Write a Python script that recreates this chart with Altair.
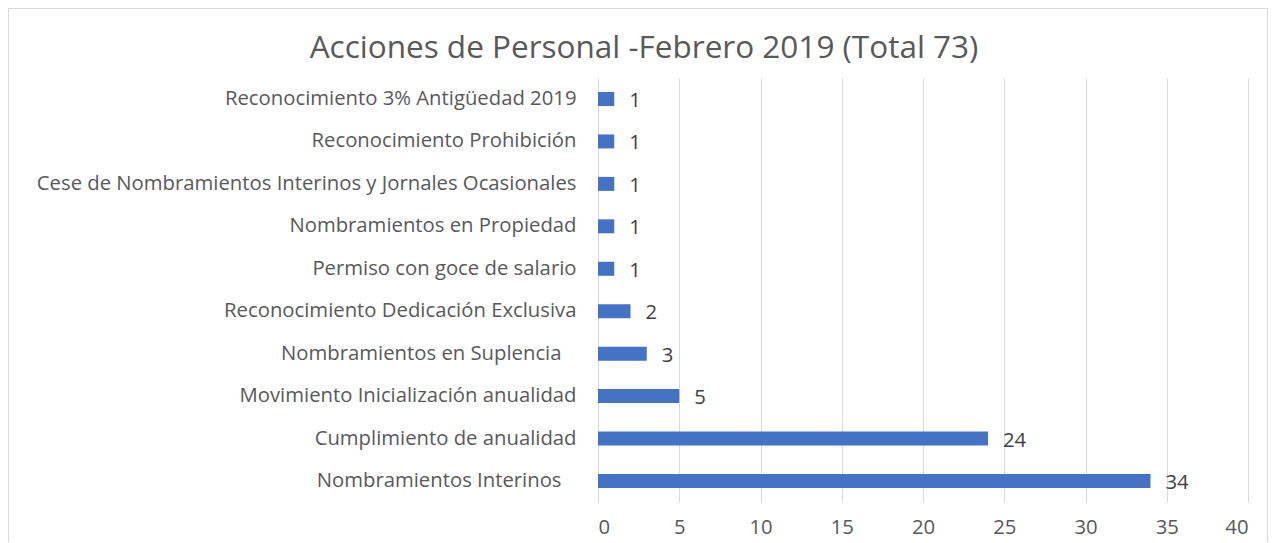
import altair as alt
import pandas as pd

categories = [
    "Reconocimiento 3% Antigüedad 2019",
    "Reconocimiento Prohibición",
    "Cese de Nombramientos Interinos y Jornales Ocasionales",
    "Nombramientos en Propiedad",
    "Permiso con goce de salario",
    "Reconocimiento Dedicación Exclusiva",
    "Nombramientos en Suplencia\u2800",
    "Movimiento Inicialización anualidad",
    "Cumplimiento de anualidad",
    "Nombramientos Interinos\u2800",
]
values = [1, 1, 1, 1, 1, 2, 3, 5, 24, 34]
x_ticks = [0, 5, 10, 15, 20, 25, 30, 35, 40]
title_text = ["Acciones de Personal -Febrero 2019 (Total 73)"]

df = pd.DataFrame({"cat": categories, "val": values})
tdf = pd.DataFrame({"t": title_text})

FONT = "Open Sans"
BLUE = "#4472C4"
TXT = "#595959"
FS = 20.3

W, H = 650, 424

y_enc = alt.Y("cat:N", sort=categories, title=None,
              scale=alt.Scale(paddingInner=0.67, paddingOuter=0.33),
              axis=alt.Axis(labelFont=FONT, labelFontSize=FS, labelColor=TXT,
                            labelPadding=22, ticks=False, domain=False,
                            labelLimit=700))
x_enc = alt.X("val:Q", title=None,
              scale=alt.Scale(domain=[0, 40], nice=False),
              axis=alt.Axis(values=x_ticks, labelFont=FONT, labelFontSize=FS,
                            labelColor=TXT, labelPadding=15, ticks=False,
                            domain=False, grid=True, gridColor="#d9d9d9"))

bars = alt.Chart(df).mark_bar(color=BLUE).encode(x=x_enc, y=y_enc)
labels = alt.Chart(df).mark_text(align="left", baseline="middle", dx=15, dy=2,
                                 font=FONT, fontSize=FS, color="#404040").encode(
    x="val:Q", y=alt.Y("cat:N", sort=categories), text="val:Q")

border = alt.Chart(df).mark_rect(fill=None, stroke="#d9d9d9", strokeWidth=1,
                                 clip=False).encode(
    x=alt.value(-590), x2=alt.value(670), y=alt.value(-70), y2=alt.value(560))

title = alt.Chart(tdf).mark_text(align="center", baseline="middle",
                                 font=FONT, fontSize=31.5, color=TXT).encode(
    x=alt.value(46), y=alt.value(-29), text="t:N")

chart = alt.layer(border, title, bars, labels).properties(
    width=W, height=H,
    autosize=alt.AutoSizeParams(type="none"),
    padding={"left": 590, "top": 70, "right": 20, "bottom": 40},
).configure_view(stroke=None)

chart.save("out.html", embed_options={"renderer": "svg", "actions": False})
